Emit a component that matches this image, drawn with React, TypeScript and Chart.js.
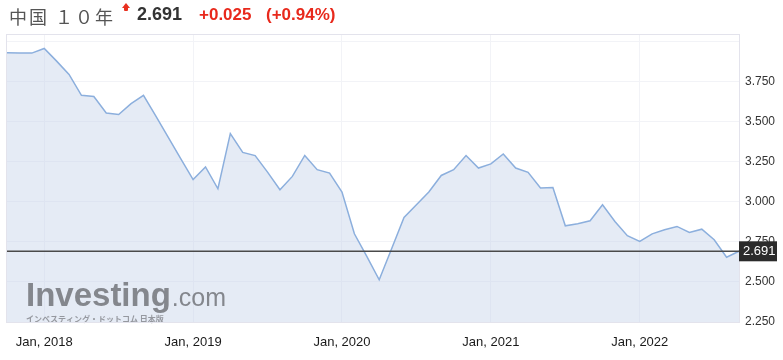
import React, { useEffect, useRef } from "react";
import { Chart, registerables } from "chart.js";

Chart.register(...registerables);

const categories = [
  "Oct, 2017", "Nov, 2017", "Dec, 2017",
  "Jan, 2018", "Feb, 2018", "Mar, 2018", "Apr, 2018", "May, 2018", "Jun, 2018",
  "Jul, 2018", "Aug, 2018", "Sep, 2018", "Oct, 2018", "Nov, 2018", "Dec, 2018",
  "Jan, 2019", "Feb, 2019", "Mar, 2019", "Apr, 2019", "May, 2019", "Jun, 2019",
  "Jul, 2019", "Aug, 2019", "Sep, 2019", "Oct, 2019", "Nov, 2019", "Dec, 2019",
  "Jan, 2020", "Feb, 2020", "Mar, 2020", "Apr, 2020", "May, 2020", "Jun, 2020",
  "Jul, 2020", "Aug, 2020", "Sep, 2020", "Oct, 2020", "Nov, 2020", "Dec, 2020",
  "Jan, 2021", "Feb, 2021", "Mar, 2021", "Apr, 2021", "May, 2021", "Jun, 2021",
  "Jul, 2021", "Aug, 2021", "Sep, 2021", "Oct, 2021", "Nov, 2021", "Dec, 2021",
  "Jan, 2022", "Feb, 2022", "Mar, 2022", "Apr, 2022", "May, 2022", "Jun, 2022",
  "Jul, 2022", "Aug, 2022", "Sep, 2022",
];

const yields = [
  3.929, 3.928, 3.927,
  3.956, 3.877, 3.794, 3.664, 3.656, 3.554,
  3.544, 3.612, 3.664, 3.534, 3.401, 3.269,
  3.138, 3.217, 3.081, 3.425, 3.308, 3.288,
  3.185, 3.075, 3.158, 3.289, 3.200, 3.179,
  3.061, 2.800, 2.660, 2.513, 2.707, 2.902,
  2.981, 3.061, 3.164, 3.200, 3.288, 3.210,
  3.236, 3.298, 3.210, 3.183, 3.086, 3.089,
  2.850, 2.863, 2.881, 2.981, 2.877, 2.788,
  2.752, 2.800, 2.825, 2.846, 2.808, 2.829,
  2.763, 2.654, 2.691,
];

const yTicks = [2.25, 2.5, 2.75, 3.0, 3.25, 3.5, 3.75, 4.0];
const yLabelMax = 3.75;
const lastPrice = 2.691;

const titleText = "中国 １０年";
const priceText = "2.691";
const changeText = "+0.025";
const changePctText = "(+0.94%)";
const watermarkMain = "Investing";
const watermarkDomain = ".com";
const watermarkSub = "インベスティング・ドットコム 日本版";

const FONT = "Arial, 'Liberation Sans', sans-serif";
const GRID = "#f2f3f7";

const overlayPlugin = {
  id: "overlay",
  afterDatasetsDraw(chart: any) {
    const { ctx, chartArea } = chart;
    const { left, right, top, bottom } = chartArea;
    ctx.save();
    // watermark
    ctx.fillStyle = "rgba(115,117,123,0.85)";
    ctx.textBaseline = "alphabetic";
    ctx.textAlign = "left";
    ctx.font = `bold 33px ${FONT}`;
    ctx.fillText(watermarkMain, 26, 306);
    const w = ctx.measureText(watermarkMain).width;
    ctx.font = `25px ${FONT}`;
    ctx.fillText(watermarkDomain, 26 + w + 1, 306);
    ctx.font = `bold 8px 'Noto Sans CJK JP', sans-serif`;
    ctx.fillStyle = "rgba(115,117,123,0.7)";
    ctx.fillText(watermarkSub, 26, 322);
    // border
    ctx.strokeStyle = "#e3e3ec";
    ctx.lineWidth = 1;
    ctx.strokeRect(left - 0.5, top - 0.5, right - left + 1, bottom - top + 1);
    // price line
    const y = chart.scales.y.getPixelForValue(lastPrice);
    ctx.strokeStyle = "#4a4a4a";
    ctx.lineWidth = 1.5;
    ctx.beginPath();
    ctx.moveTo(left, y);
    ctx.lineTo(right, y);
    ctx.stroke();
    ctx.restore();
  },
  afterDraw(chart: any) {
    const { ctx, chartArea } = chart;
    const y = chart.scales.y.getPixelForValue(lastPrice);
    ctx.save();
    ctx.fillStyle = "#2b2b2b";
    ctx.fillRect(chartArea.right, y - 10, 38, 20);
    ctx.fillStyle = "#ffffff";
    ctx.font = `13px ${FONT}`;
    ctx.textAlign = "left";
    ctx.textBaseline = "middle";
    ctx.fillText(lastPrice.toFixed(3), chartArea.right + 4, y + 0.5);
    ctx.restore();
  },
};

export default function App() {
  const canvasRef = useRef<HTMLCanvasElement | null>(null);

  useEffect(() => {
    const canvas = canvasRef.current;
    if (!canvas) return;
    const chart = new Chart(canvas, {
      type: "line",
      data: {
        labels: categories,
        datasets: [
          {
            data: yields,
            borderColor: "#8cafdd",
            borderWidth: 1.5,
            backgroundColor: "rgba(198,211,232,0.45)",
            fill: "start",
            pointRadius: 0,
            tension: 0,
          },
        ],
      },
      options: {
        responsive: false,
        animation: false,
        layout: { padding: { left: 7, top: 35, right: 0, bottom: 0 } },
        plugins: { legend: { display: false }, tooltip: { enabled: false } },
        scales: {
          x: {
            type: "category",
            offset: false,
            border: { display: false },
            grid: { color: GRID, drawTicks: false, lineWidth: 1 },
            afterBuildTicks: (scale: any) => {
              scale.ticks = scale.ticks.filter((t: any) =>
                String(categories[t.value]).startsWith("Jan")
              );
            },
            afterFit: (scale: any) => {
              scale.height = 38;
            },
            ticks: {
              autoSkip: false,
              maxRotation: 0,
              padding: 13,
              color: "#1a1a1a",
              font: { family: FONT, size: 13 },
              callback: (v: any) => categories[v as number],
            },
          },
          y: {
            position: "right",
            min: 2.25,
            max: 4.04,
            border: { display: false },
            grid: { color: GRID, drawTicks: false, lineWidth: 1 },
            afterBuildTicks: (scale: any) => {
              scale.ticks = yTicks.map((v) => ({ value: v }));
            },
            afterFit: (scale: any) => {
              scale.width = 44;
            },
            ticks: {
              padding: 6,
              color: "#333333",
              font: { family: FONT, size: 12 },
              callback: (v: any) =>
                (v as number) <= yLabelMax + 1e-9 ? (v as number).toFixed(3) : "",
            },
          },
        },
      },
      plugins: [overlayPlugin],
    });
    return () => chart.destroy();
  }, []);

  return (
    <div
      style={{
        position: "absolute",
        left: 0,
        top: 0,
        width: 783,
        height: 360,
        background: "#ffffff",
        overflow: "hidden",
      }}
    >
      <canvas
        ref={canvasRef}
        width={783}
        height={360}
        style={{ position: "absolute", left: 0, top: 0, display: "block" }}
      />
      <span
        style={{
          position: "absolute",
          left: 9,
          top: 6,
          fontFamily: "'Noto Sans CJK JP', sans-serif",
          fontSize: 18,
          letterSpacing: "2px",
          lineHeight: "20px",
          color: "#555555",
          whiteSpace: "pre",
        }}
      >
        {titleText}
      </span>
      <div
        style={{
          position: "absolute",
          left: 122,
          top: 3,
          width: 0,
          height: 0,
          borderLeft: "4px solid transparent",
          borderRight: "4px solid transparent",
          borderBottom: "5px solid #e8301f",
        }}
      />
      <div
        style={{
          position: "absolute",
          left: 124,
          top: 7,
          width: 4,
          height: 4,
          background: "#e8301f",
          borderRadius: 1,
        }}
      />
      <span
        style={{
          position: "absolute",
          left: 137,
          top: 5,
          fontFamily: FONT,
          fontWeight: "bold",
          fontSize: 18,
          lineHeight: "18px",
          color: "#333333",
        }}
      >
        {priceText}
      </span>
      <span
        style={{
          position: "absolute",
          left: 199,
          top: 6,
          fontFamily: FONT,
          fontWeight: "bold",
          fontSize: 17,
          lineHeight: "17px",
          color: "#e8291c",
        }}
      >
        {changeText}
      </span>
      <span
        style={{
          position: "absolute",
          left: 266,
          top: 6,
          fontFamily: FONT,
          fontWeight: "bold",
          fontSize: 17,
          lineHeight: "17px",
          color: "#e8291c",
        }}
      >
        {changePctText}
      </span>
    </div>
  );
}
